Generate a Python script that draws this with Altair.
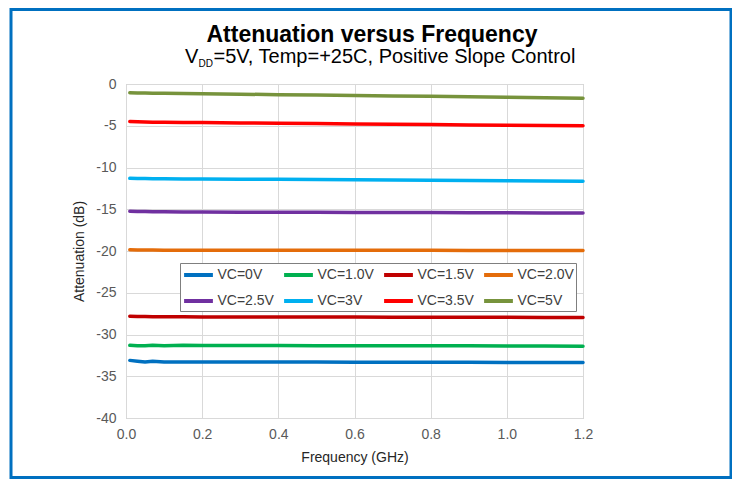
import altair as alt
import pandas as pd

freq = [0.01, 0.03, 0.05, 0.07, 0.1, 0.15, 0.2, 0.3, 0.4, 0.5, 0.6, 0.7, 0.8, 0.9, 1.0, 1.1, 1.2]
series_names = ["VC=0V", "VC=1.0V", "VC=1.5V", "VC=2.0V", "VC=2.5V", "VC=3V", "VC=3.5V", "VC=5V"]
colors = ["#0070C0", "#00B050", "#C00000", "#E46C0A", "#7030A0", "#00B0F0", "#FF0000", "#77933C"]

vc0 = [-33.1, -33.2, -33.3, -33.2, -33.3, -33.28, -33.3, -33.3, -33.3, -33.3, -33.32, -33.32, -33.33, -33.33, -33.35, -33.35, -33.35]
vc10 = [-31.3, -31.35, -31.35, -31.3, -31.35, -31.3, -31.32, -31.33, -31.33, -31.34, -31.34, -31.35, -31.35, -31.36, -31.37, -31.38, -31.4]
vc15 = [-27.8, -27.85, -27.85, -27.88, -27.88, -27.88, -27.9, -27.9, -27.9, -27.9, -27.9, -27.92, -27.92, -27.93, -27.94, -27.95, -27.95]
vc20 = [-19.85, -19.87, -19.88, -19.88, -19.9, -19.9, -19.9, -19.9, -19.9, -19.9, -19.9, -19.92, -19.92, -19.93, -19.93, -19.94, -19.95]
vc25 = [-15.25, -15.27, -15.28, -15.3, -15.3, -15.32, -15.33, -15.35, -15.35, -15.37, -15.38, -15.4, -15.4, -15.42, -15.43, -15.44, -15.45]
vc30 = [-11.3, -11.32, -11.33, -11.35, -11.35, -11.37, -11.38, -11.4, -11.42, -11.45, -11.47, -11.5, -11.52, -11.55, -11.58, -11.62, -11.65]
vc35 = [-4.5, -4.52, -4.55, -4.57, -4.58, -4.6, -4.62, -4.67, -4.7, -4.74, -4.78, -4.82, -4.86, -4.9, -4.93, -4.97, -5.0]
vc50 = [-1.05, -1.07, -1.08, -1.1, -1.12, -1.14, -1.16, -1.22, -1.28, -1.33, -1.38, -1.43, -1.48, -1.53, -1.58, -1.64, -1.7]

x_ticks = [0.0, 0.2, 0.4, 0.6, 0.8, 1.0, 1.2]
y_ticks = [-40, -35, -30, -25, -20, -15, -10, -5, 0]

title_text = "Attenuation  versus  Frequency"
sub_v = "V"
sub_dd = "DD"
sub_rest = "=5V, Temp=+25C, Positive Slope Control"

all_vals = [vc0, vc10, vc15, vc20, vc25, vc30, vc35, vc50]
rows = []
for name, vals in zip(series_names, all_vals):
    for f, v in zip(freq, vals):
        rows.append({"freq": f, "att": v, "series": name})
df = pd.DataFrame(rows)

FONT = "Liberation Sans"

lines = alt.Chart(df).mark_line(strokeWidth=3.5, strokeCap="round").encode(
    x=alt.X("freq:Q",
            scale=alt.Scale(domain=[0, 1.2], nice=False, zero=False),
            axis=alt.Axis(values=x_ticks, format=".1f", title="Frequency (GHz)",
                          labelFlush=False, labelPadding=9, titlePadding=9)),
    y=alt.Y("att:Q",
            scale=alt.Scale(domain=[-40, 0], nice=False),
            axis=alt.Axis(values=y_ticks, format="d", title="Attenuation (dB)",
                          labelExpr="replace(datum.label, '\u2212', '-')",
                          labelPadding=10, titlePadding=9)),
    color=alt.Color("series:N",
                    scale=alt.Scale(domain=series_names, range=colors),
                    legend=alt.Legend(title=None, orient="none", legendX=54, legendY=179,
                                      direction="horizontal", columns=4,
                                      symbolType="M-1.8,0H1.8", symbolSize=256,
                                      symbolStrokeWidth=4, symbolOffset=6.5,
                                      labelFontSize=14, labelFont=FONT, labelColor="#404040",
                                      labelOffset=9, columnPadding=2, rowPadding=8,
                                      padding=2, strokeColor="#7F7F7F", fillColor="white",
                                      gridAlign="all")),
    detail="series:N",
)

one = alt.Data(values=[{"a": 1}])

border = alt.Chart(one).mark_rect(fillOpacity=0, stroke="#0070C0", strokeWidth=3).encode(
    x=alt.value(-115), x2=alt.value(605), y=alt.value(-74.5), y2=alt.value(393.5)
)

title = alt.Chart(one).mark_text(text=title_text, font=FONT, fontSize=23, fontWeight="bold",
                                 align="center", baseline="alphabetic", color="#000000").encode(
    x=alt.value(246), y=alt.value(-42)
)
t_v = alt.Chart(one).mark_text(text=sub_v, font=FONT, fontSize=20, align="left",
                               baseline="alphabetic", color="#000000").encode(
    x=alt.value(59), y=alt.value(-21)
)
t_dd = alt.Chart(one).mark_text(text=sub_dd, font=FONT, fontSize=10, align="left",
                                baseline="alphabetic", color="#000000").encode(
    x=alt.value(72.5), y=alt.value(-17.5)
)
t_rest = alt.Chart(one).mark_text(text=sub_rest, font=FONT, fontSize=20, align="left",
                                  baseline="alphabetic", color="#000000").encode(
    x=alt.value(87.5), y=alt.value(-21)
)

chart = alt.layer(border, lines, title, t_v, t_dd, t_rest).properties(
    width=457, height=334,
    autosize=alt.AutoSizeParams(type="none"),
    padding={"left": 118, "top": 76, "right": 149, "bottom": 61},
).configure(font=FONT).configure_view(
    stroke="#BFBFBF", strokeWidth=1
).configure_axis(
    domain=False, ticks=False, grid=True, gridColor="#D9D9D9", gridWidth=1,
    labelFont=FONT, labelFontSize=14, labelColor="#595959",
    titleFont=FONT, titleFontSize=14, titleFontWeight="normal", titleColor="#262626",
)

chart.save("out.html", embed_options={"renderer": "svg", "actions": False})
